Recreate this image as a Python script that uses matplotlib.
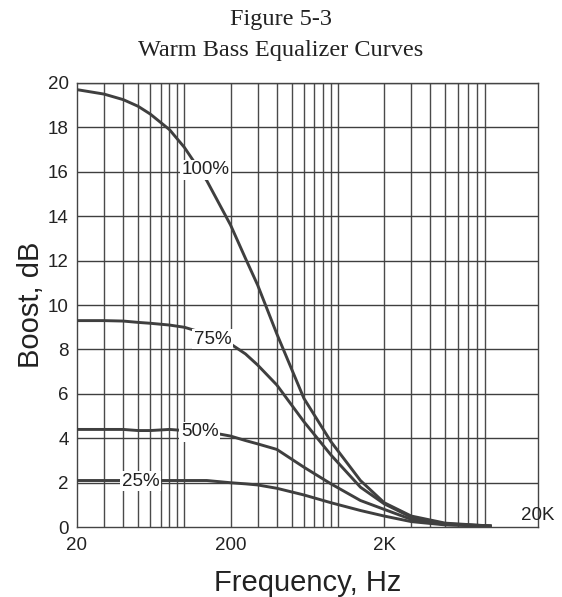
import matplotlib
matplotlib.use("Agg")
import matplotlib.pyplot as plt
import numpy as np

# frequencies (Hz)
freq = [20, 30, 40, 50, 60, 80, 100, 140, 200, 250, 300, 400, 600, 900, 1400, 2000, 3000, 5000, 10000]

boost_100 = [19.7, 19.5, 19.25, 18.95, 18.6, 17.9, 17.1, 15.6, 13.6, 12.1, 10.9, 8.7, 5.8, 3.85, 2.1, 1.1, 0.5, 0.18, 0.05]
boost_75 = [9.3, 9.3, 9.28, 9.22, 9.18, 9.1, 9.0, 8.7, 8.25, 7.8, 7.3, 6.4, 4.75, 3.25, 1.8, 1.05, 0.45, 0.15, 0.05]
boost_50 = [4.4, 4.4, 4.4, 4.35, 4.35, 4.4, 4.35, 4.3, 4.1, 3.9, 3.75, 3.5, 2.7, 1.95, 1.2, 0.8, 0.35, 0.12, 0.05]
boost_25 = [2.1, 2.1, 2.1, 2.1, 2.1, 2.1, 2.1, 2.1, 2.0, 1.95, 1.9, 1.75, 1.45, 1.1, 0.75, 0.5, 0.25, 0.1, 0.04]

curve_names = ["100%", "75%", "50%", "25%"]
# where the curve labels sit (freq, dB)
label_freq = [137, 153, 126, 52]
label_db = [16.1, 8.45, 4.3, 2.07]

xticks = [20, 200, 2000]
xticklabels = ["20", "200", "2K"]
yticks = list(range(0, 21, 2))

sans = "Liberation Sans"

fig = plt.figure(figsize=(5.62, 5.97), dpi=100)
ax = fig.add_axes([0.137, 0.117, 0.820, 0.744])

# grid
grid_x = [v * 10 ** d for d in range(1, 4) for v in range(1, 10) if v * 10 ** d > 20 and v * 10 ** d <= 10000]
for gx in grid_x:
    ax.axvline(gx, color="#4a4a4a", lw=1.0, zorder=1)
for gy in yticks[1:]:
    ax.axhline(gy, color="#3f3f3f", lw=1.0, zorder=1)

line_color = "#3f3f3f"
for ys in [boost_100, boost_75, boost_50, boost_25]:
    ax.plot(freq, ys, color=line_color, lw=2.1, zorder=3, solid_capstyle="butt")

for name, fx, fy in zip(curve_names, label_freq, label_db):
    ax.text(fx, fy, name, ha="center", va="center", fontsize=13.5, family=sans,
            color="#222222", zorder=5,
            bbox=dict(boxstyle="square,pad=0.08", fc="white", ec="none"))

ax.set_xscale("log")
ax.set_xlim(20, 20000)
ax.set_ylim(0, 20)
ax.set_xticks(xticks)
ax.set_xticklabels(xticklabels)
ax.set_xticks([], minor=True)
ax.set_yticks(yticks)
ax.tick_params(length=0, labelsize=13.5, colors="#222222")
ax.tick_params(axis="x", pad=7)
ax.tick_params(axis="y", pad=6)
for lab in ax.get_xticklabels() + ax.get_yticklabels():
    lab.set_family(sans)
ax.text(20000, 0.15, "20K", ha="center", va="bottom", fontsize=13.5, family=sans,
        color="#222222", clip_on=False)

for sp in ax.spines.values():
    sp.set_color("#444444")
    sp.set_linewidth(1.0)

ax.set_xlabel("Frequency, Hz", fontsize=21, family=sans, color="#222222", labelpad=11)
ax.set_ylabel("Boost, dB", fontsize=21, family=sans, color="#222222", labelpad=2)

fig.text(0.5, 0.968, "Figure 5-3", ha="center", va="center", fontsize=17.5,
         family="Liberation Serif", color="#222222")
fig.text(0.5, 0.916, "Warm Bass Equalizer Curves", ha="center", va="center", fontsize=17.5,
         family="Liberation Serif", color="#222222")

fig.savefig("out.png", dpi=100)
